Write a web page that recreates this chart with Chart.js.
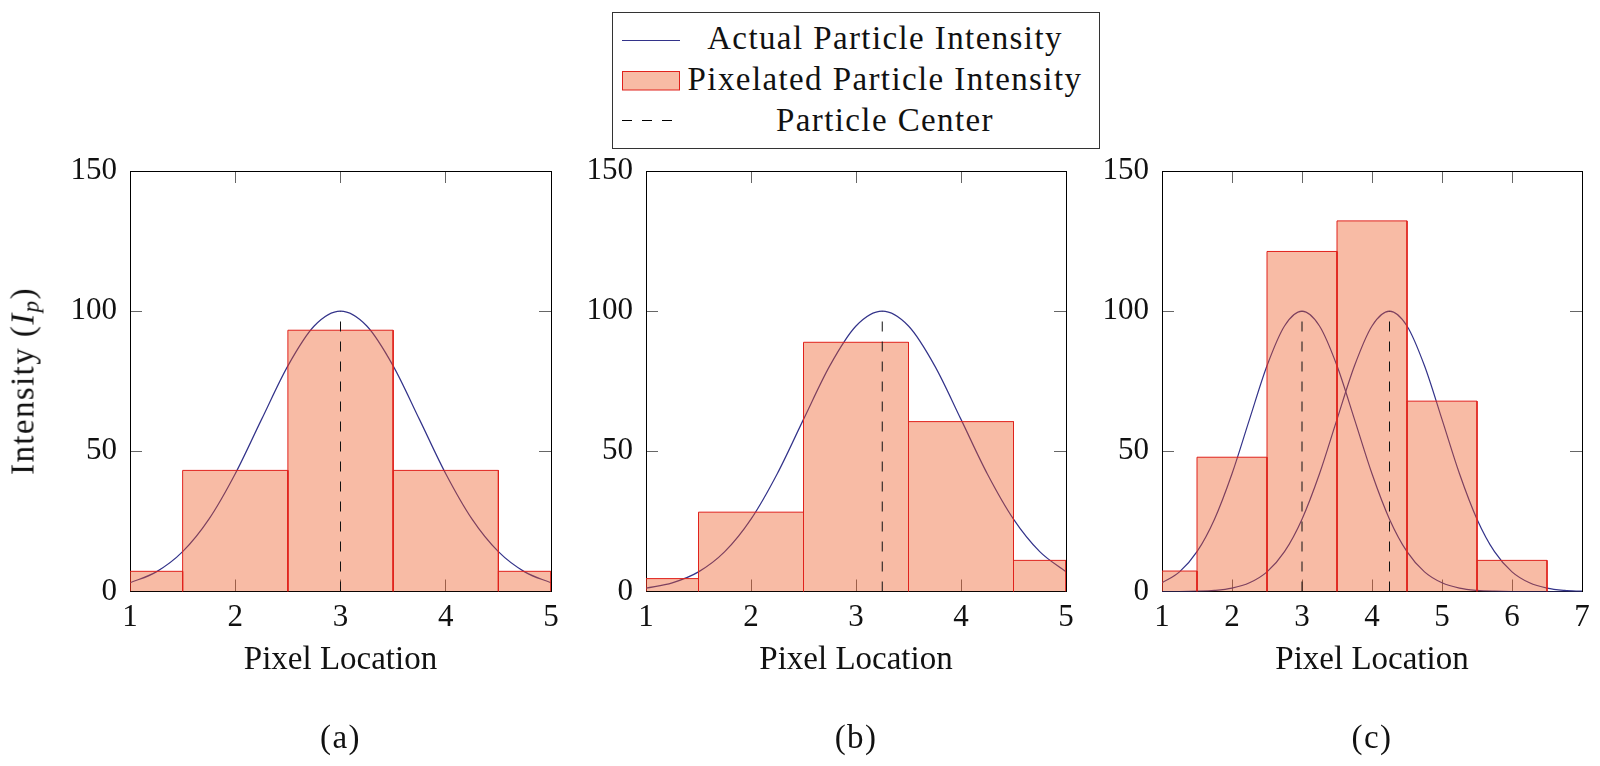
<!DOCTYPE html>
<html><head><meta charset="utf-8">
<script src="https://cdn.jsdelivr.net/npm/chart.js@4"></script>
<style>
body{margin:0;background:#fff;width:1600px;height:766px;overflow:hidden;position:relative;font-family:'Liberation Serif',serif;}
canvas{position:absolute;top:0;}
.t{position:absolute;font-size:33px;line-height:40px;letter-spacing:1.4px;white-space:nowrap;color:#111;transform:translate(-50%,-50%);}
#legend{position:absolute;left:612px;top:12px;width:486px;height:135px;border:1px solid #333;background:#fff;}
</style></head><body>
<canvas id="ca" width="560" height="766" style="left:0px"></canvas>
<canvas id="cb" width="560" height="766" style="left:516px"></canvas>
<canvas id="cc" width="568" height="766" style="left:1032px"></canvas>

<div id="legend"></div>
<svg style="position:absolute;left:0;top:0" width="1600" height="160">
  <line x1="622" y1="40.5" x2="680" y2="40.5" stroke="#33338a" stroke-width="1.2"/>
  <rect x="622.5" y="71.5" width="57" height="18.5" fill="rgba(238,85,30,0.4)" stroke="#e0221c" stroke-width="1"/>
  <line x1="622" y1="120.5" x2="674" y2="120.5" stroke="#000" stroke-width="1" stroke-dasharray="10,10"/>
</svg>
<div class="t" style="left:885px;top:37.5px">Actual Particle Intensity</div>
<div class="t" style="left:885px;top:79px">Pixelated Particle Intensity</div>
<div class="t" style="left:885px;top:119.5px">Particle Center</div>

<div class="t" style="left:27px;top:381px;transform:translate(-50%,-50%) rotate(-90deg)">Intensity (<i>I</i><sub style="font-size:23px;vertical-align:-5px;font-style:italic">p</sub>)</div>

<div class="t" style="left:340.5px;top:737px">(a)</div>
<div class="t" style="left:856px;top:737px">(b)</div>
<div class="t" style="left:1372px;top:737px">(c)</div>

<script>
// ---------- data ----------
const yTicks = [0, 50, 100, 150];
const xTicksAB = [1, 2, 3, 4, 5];
const xTicksC = [1, 2, 3, 4, 5, 6, 7];

const pixelEdgesA = [1, 1.5, 2.5, 3.5, 4.5, 5];
const pixelValuesA = [7.2, 43.2, 93.2, 43.2, 7.2];
const pixelEdgesB = [1, 1.5, 2.5, 3.5, 4.5, 5];
const pixelValuesB = [4.6, 28.3, 88.9, 60.6, 11.1];
const pixelEdgesC = [1, 1.5, 2.5, 3.5, 4.5, 5.5, 6.5];
const pixelValuesC = [7.3, 47.9, 121.3, 132.2, 67.9, 11.1];

const curveXAB = [1, 1.25, 1.5, 1.75, 2, 2.25, 2.5, 2.75, 3, 3.25, 3.5, 3.75, 4, 4.25, 4.5, 4.75, 5];
const curveA = [3.1, 7.0, 14.2, 25.8, 42.0, 61.4, 80.5, 94.7, 100, 94.7, 80.5, 61.4, 42.0, 25.8, 14.2, 7.0, 3.1];
const curveB = [1.2, 3.1, 7.0, 14.2, 25.8, 42.0, 61.4, 80.5, 94.7, 100, 94.7, 80.5, 61.4, 42.0, 25.8, 14.2, 7.0];
const curveXC = [1, 1.25, 1.5, 1.75, 2, 2.25, 2.5, 2.75, 3, 3.25, 3.5, 3.75, 4, 4.25, 4.5, 4.75, 5, 5.25, 5.5, 5.75, 6, 6.25, 6.5, 6.75, 7];
const curveC1 = [3.1, 7.0, 14.2, 25.8, 42.0, 61.4, 80.5, 94.7, 100, 94.7, 80.5, 61.4, 42.0, 25.8, 14.2, 7.0, 3.1, 1.2, 0.4, 0.1, 0, 0, 0, 0, 0];
const curveC2 = [0, 0, 0.1, 0.4, 1.2, 3.1, 7.0, 14.2, 25.8, 42.0, 61.4, 80.5, 94.7, 100, 94.7, 80.5, 61.4, 42.0, 25.8, 14.2, 7.0, 3.1, 1.2, 0.4, 0.1];

const centersA = [3];
const centersB = [3.25];
const centersC = [3, 4.25];
const centerTop = 100;

// ---------- styles ----------
const FONT = {family: "'Liberation Serif', serif", size: 31};
const TFONT = {family: "'Liberation Serif', serif", size: 33};
const TXT = '#111';
const CURVE = '#33338a';
const FILL = 'rgba(238,85,30,0.4)';
const EDGE = '#e0221c';

function curveSet(xs, ys) {
  return {data: xs.map((x, i) => ({x, y: ys[i]})), borderColor: CURVE, borderWidth: 1.2,
    pointRadius: 0, fill: false, cubicInterpolationMode: 'monotone', order: 3};
}
function barSets(edges, vals) {
  return vals.map((v, i) => ({
    data: [{x: edges[i], y: 0}, {x: edges[i], y: v}, {x: edges[i + 1], y: v}, {x: edges[i + 1], y: 0}],
    fill: 'origin', backgroundColor: FILL, borderColor: EDGE, borderWidth: 1, pointRadius: 0, tension: 0, order: 2
  }));
}
function centerSets(cs) {
  return cs.map(c => ({data: [{x: c, y: 0}, {x: c, y: centerTop}], borderColor: '#111', borderWidth: 1,
    borderDash: [10, 10], pointRadius: 0, fill: false, order: 1}));
}

function makeChart(id, xTicks, datasets, padRight) {
  const xmin = xTicks[0], xmax = xTicks[xTicks.length - 1];
  const grid = {drawOnChartArea: false, drawTicks: true, tickLength: -12, color: '#666', lineWidth: 1};
  const border = {display: true, color: '#000', width: 1};
  const noPad = s => { s.paddingLeft = 0; s.paddingRight = 0; s.paddingTop = 0; s.paddingBottom = 0; };
  new Chart(document.getElementById(id), {
    type: 'line',
    data: {datasets},
    options: {
      responsive: false, animation: false, devicePixelRatio: 1, events: [],
      layout: {padding: {top: 171, left: 0, right: padRight, bottom: 0}},
      plugins: {legend: {display: false}, tooltip: {enabled: false}, title: {display: false}},
      scales: {
        x: {type: 'linear', position: 'bottom', min: xmin, max: xmax,
          afterBuildTicks: s => { s.ticks = xTicks.map(v => ({value: v})); },
          ticks: {font: FONT, color: TXT, padding: 20, maxRotation: 0, autoSkip: false},
          grid, border,
          title: {display: true, text: 'Pixel Location', font: TFONT, color: TXT, padding: {top: 0, bottom: 86}},
          afterFit: s => { s.height = 174.5; noPad(s); }},
        x2: {type: 'linear', position: 'top', min: xmin, max: xmax,
          afterBuildTicks: s => { s.ticks = xTicks.map(v => ({value: v})); },
          ticks: {display: false}, grid, border, afterFit: s => { s.height = 0; noPad(s); }},
        y: {type: 'linear', position: 'left', min: 0, max: 150,
          afterBuildTicks: s => { s.ticks = yTicks.map(v => ({value: v})); },
          ticks: {font: FONT, color: TXT, padding: 25},
          grid, border, afterFit: s => { s.width = 130; noPad(s); }},
        y2: {type: 'linear', position: 'right', min: 0, max: 150,
          afterBuildTicks: s => { s.ticks = yTicks.map(v => ({value: v})); },
          ticks: {display: false}, grid, border, afterFit: s => { s.width = 0; noPad(s); }}
      }
    }
  });
}

makeChart('ca', xTicksAB, [...centerSets(centersA), ...barSets(pixelEdgesA, pixelValuesA), curveSet(curveXAB, curveA)], 9);
makeChart('cb', xTicksAB, [...centerSets(centersB), ...barSets(pixelEdgesB, pixelValuesB), curveSet(curveXAB, curveB)], 10);
makeChart('cc', xTicksC, [...centerSets(centersC), ...barSets(pixelEdgesC, pixelValuesC), curveSet(curveXC, curveC1), curveSet(curveXC, curveC2)], 18);
</script>
</body></html>
